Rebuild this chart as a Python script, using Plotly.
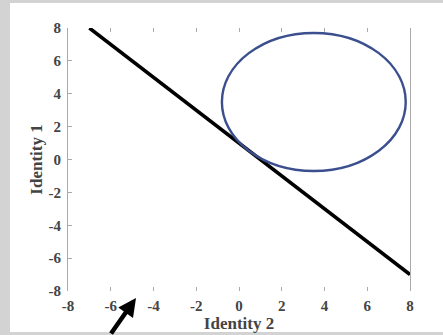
import plotly.graph_objects as go

# Data
line_x = [-7, 8]
line_y = [8, -7]
ellipse_center = (3.5, 3.5)
ellipse_radii = (4.3, 4.2)
tick_vals = [-8, -6, -4, -2, 0, 2, 4, 6, 8]
tick_text = ["-8", "-6", "-4", "-2", "0", "2", "4", "6", "8"]

W, H = 443, 335
ml, mr, mt, mb = 68, 33, 28, 44
pw, ph = W - ml - mr, H - mt - mb

def px_to_paper_x(px):
    return (px - ml) / pw

def px_to_paper_y(py):
    return (H - mb - py) / ph

fig = go.Figure()
fig.add_trace(go.Scatter(x=line_x, y=line_y, mode="lines",
                         line=dict(color="black", width=3.5), showlegend=False))

cx, cy = ellipse_center
rx, ry = ellipse_radii
fig.add_shape(type="circle", xref="x", yref="y",
              x0=cx - rx, x1=cx + rx, y0=cy - ry, y1=cy + ry,
              line=dict(color="#3b4f8e", width=2.4), layer="above")

# white page area over gray border
fig.add_shape(type="rect", xref="paper", yref="paper",
              x0=px_to_paper_x(10), x1=px_to_paper_x(445),
              y0=px_to_paper_y(332), y1=px_to_paper_y(3),
              fillcolor="white", line=dict(width=0), layer="below")

tickfont = dict(family="Liberation Serif", size=15, color="#444444", weight="bold")
titlefont = dict(family="Liberation Serif", size=17, color="#444444", weight="bold")
fig.update_xaxes(range=[-8, 8], tickvals=tick_vals, ticktext=tick_text,
                 showgrid=False, zeroline=False, showline=False, automargin=False,
                 ticks="inside", ticklen=4, tickcolor="#aaaaaa", mirror="ticks",
                 tickfont=tickfont, ticklabelstandoff=4,
                 title=dict(text="Identity 2", standoff=4, font=titlefont))
fig.update_yaxes(range=[-8, 8], tickvals=tick_vals, ticktext=tick_text,
                 showgrid=False, zeroline=False, showline=True, linecolor="#aaaaaa",
                 linewidth=1, mirror=True, automargin=False,
                 ticks="inside", ticklen=4, tickcolor="#aaaaaa",
                 tickfont=tickfont, ticklabelstandoff=3,
                 title=dict(text="Identity 1", standoff=1, font=titlefont))

fig.add_annotation(xref="paper", yref="paper",
                   x=px_to_paper_x(136), y=px_to_paper_y(298),
                   ax=-26, ay=40, text="", showarrow=True,
                   arrowhead=2, arrowsize=0.8, arrowwidth=4.5, arrowcolor="black")

fig.update_layout(width=W, height=H, margin=dict(l=ml, r=mr, t=mt, b=mb),
                  paper_bgcolor="#d3d3d3", plot_bgcolor="white")
fig.write_html("out.html")
